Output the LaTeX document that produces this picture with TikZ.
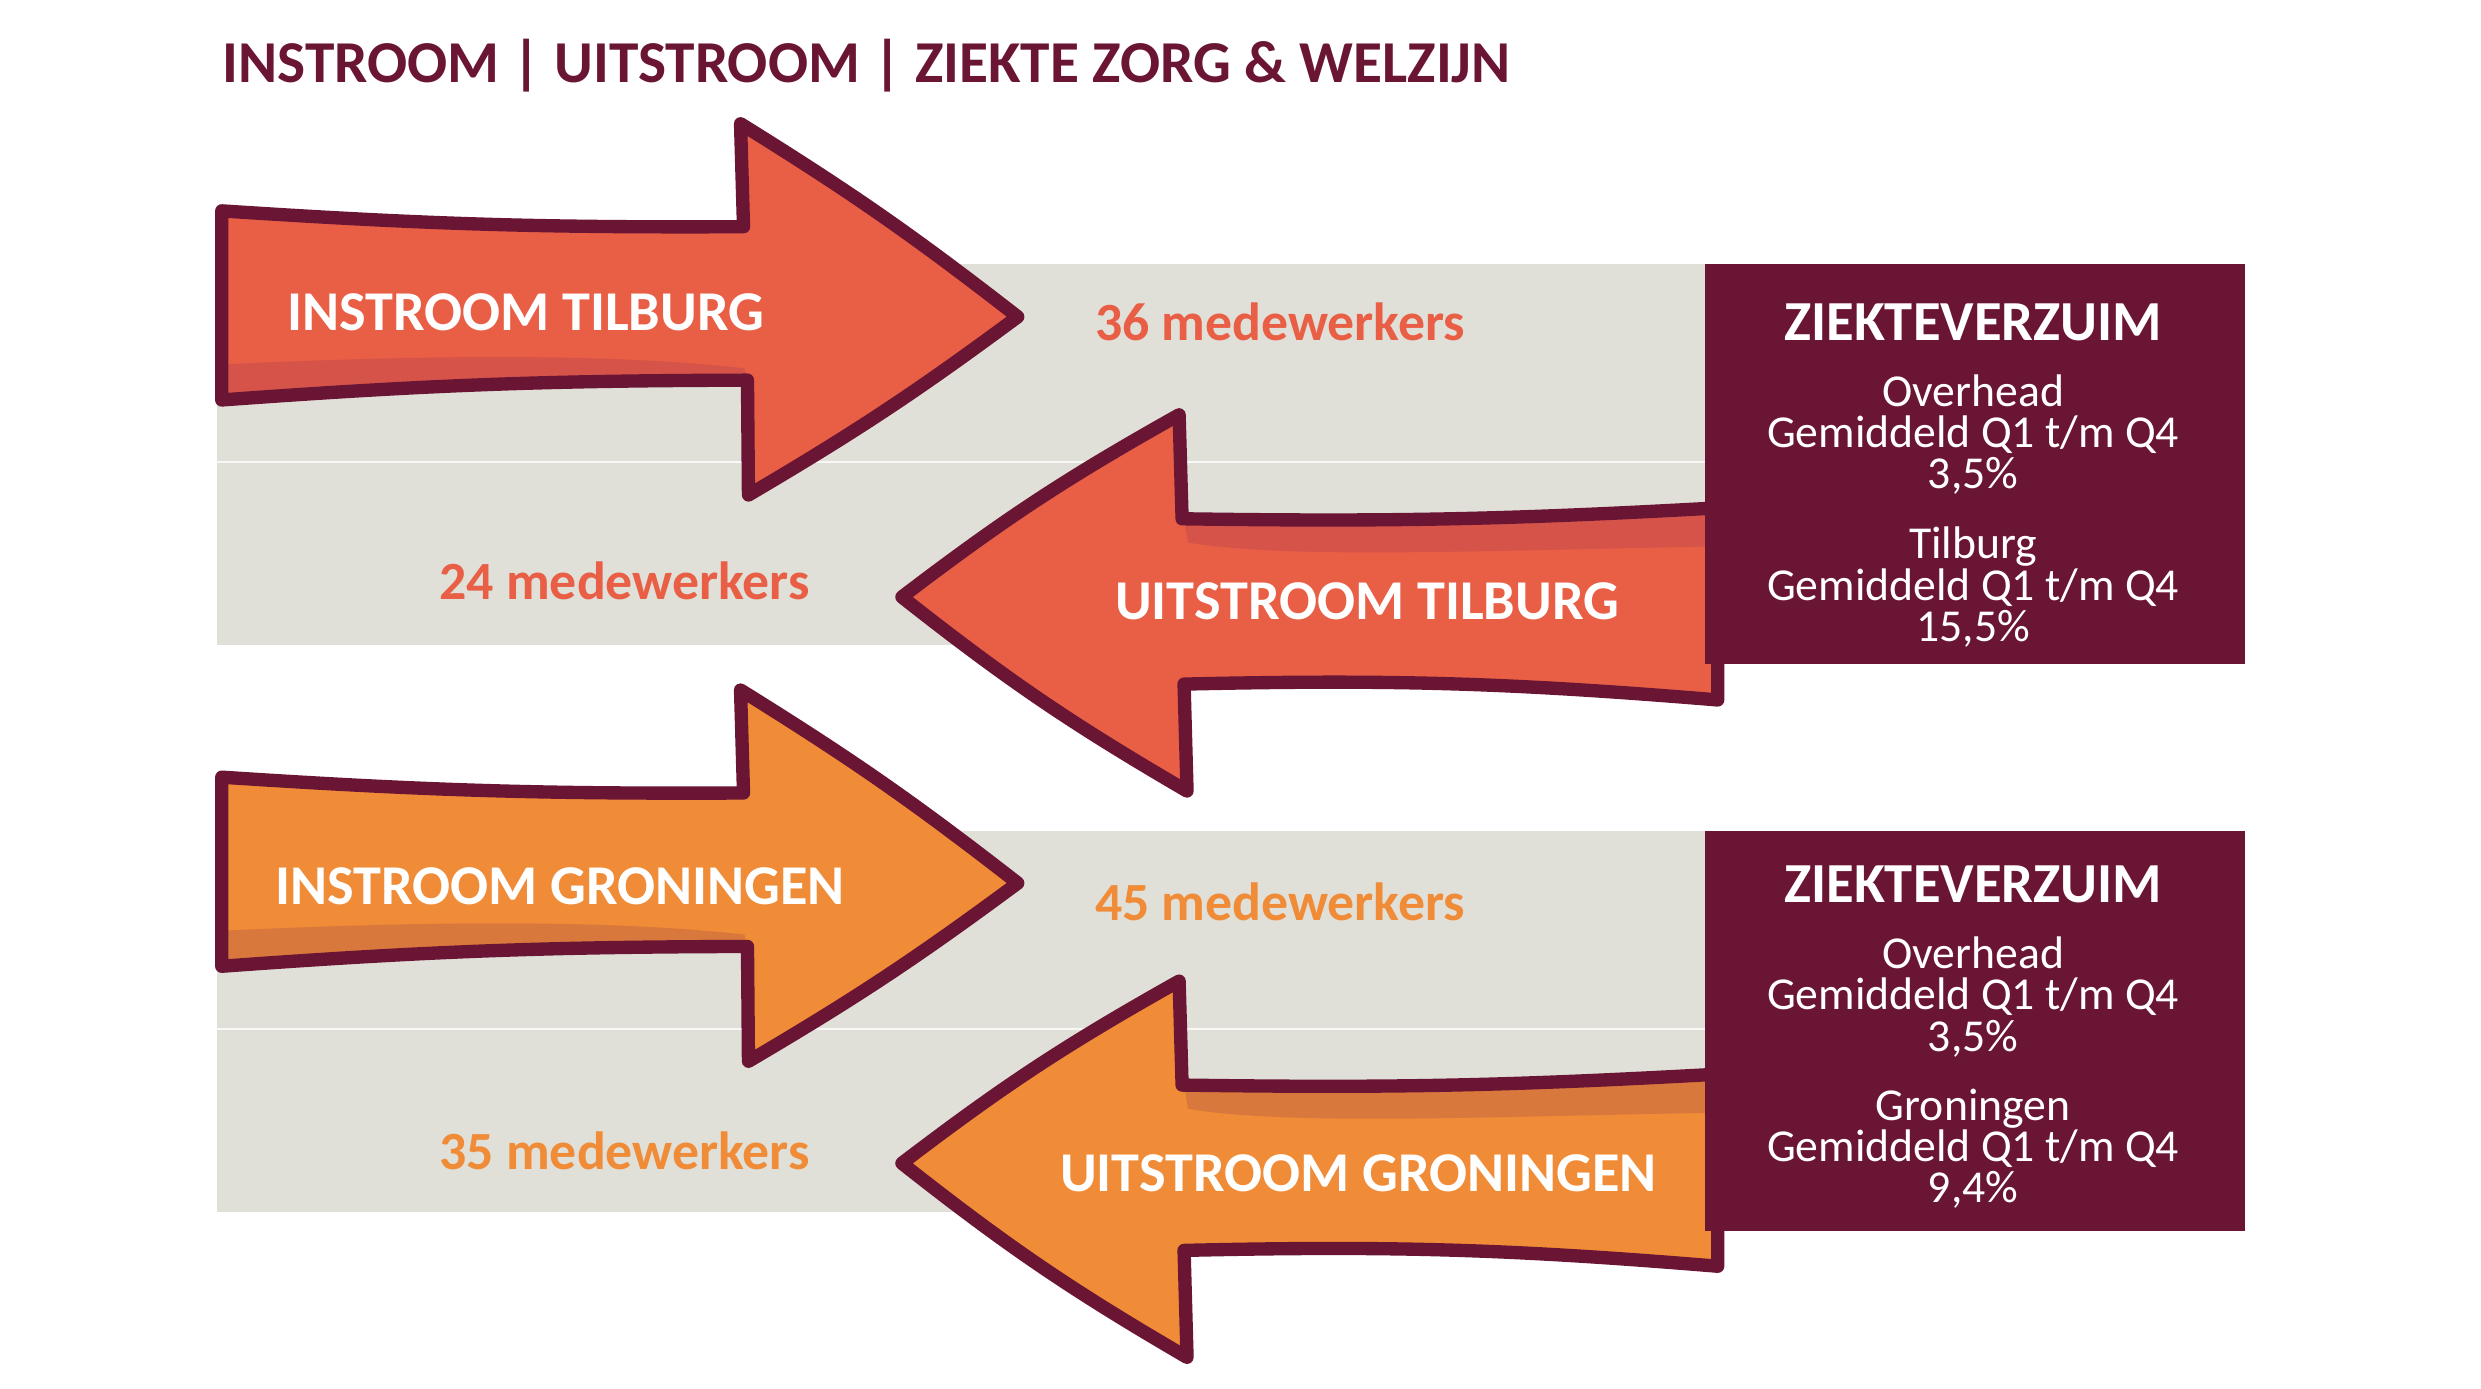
\documentclass[tikz,border=0pt]{standalone}
\usepackage{fontspec}
\setmainfont{Carlito}
\definecolor{maroon}{HTML}{6B1535}
\definecolor{redor}{HTML}{E95F46}
\definecolor{redordk}{HTML}{D6534A}
\definecolor{orng}{HTML}{F08B38}
\definecolor{orngdk}{HTML}{D9783C}
\definecolor{band}{HTML}{E0E0D8}
\tikzset{
  arrowline/.style={draw=maroon, line width=3.8pt, line join=round, line cap=round},
  arrowtxt/.style={text=white, font=\bfseries\fontsize{16}{19}\selectfont, inner sep=0pt},
  counttxt/.style={font=\bfseries\fontsize{15.3}{19}\selectfont, inner sep=0pt},
  boxhead/.style={text=white, font=\bfseries\fontsize{16.1}{19}\selectfont, inner sep=0pt},
  boxbody/.style={text=white, font=\fontsize{13}{11.7}\selectfont, align=center, inner sep=0pt},
  titletxt/.style={text=maroon, font=\bfseries\fontsize{16.9}{20}\selectfont, inner sep=0pt, anchor=base west}
}
\newcommand{\drawblock}[3]{%
  % #1 shift, #2 fill, #3 dark fill
  \begin{scope}[shift={(0,#1)}]
    \fill[band] (219,267) rectangle (1722,652);
    \draw[white, line width=0.6pt, opacity=0.8] (219,467) -- (1722,467);
    % right arrow (instroom)
    \fill[#2] (224,213) to[bend right=2] (751,229) -- (748,125) to[bend left=3] (1028,320) to[bend left=3] (756,500) -- (755,384) to[bend right=2] (224,404) -- cycle;
    \fill[#3] (226,368) .. controls (400,360) and (600,355) .. (752,372) -- (755,386) to[bend right=2] (226,402) -- cycle;
    \draw[arrowline] (224,213) to[bend right=2] (751,229) -- (748,125) to[bend left=3] (1028,320) to[bend left=3] (756,500) -- (755,384) to[bend right=2] (224,404) -- cycle;
    % left arrow (uitstroom)
    \fill[#2] (1735,513) to[bend left=2] (1194,524) -- (1191,419) to[bend right=4] (911,603) to[bend right=4] (1199,799) -- (1196,691) to[bend left=3] (1735,707) -- cycle;
    \fill[#3] (1197,530) -- (1730,517) -- (1730,552) .. controls (1500,556) and (1300,565) .. (1200,548) -- cycle;
    \draw[arrowline] (1735,513) to[bend left=2] (1194,524) -- (1191,419) to[bend right=4] (911,603) to[bend right=4] (1199,799) -- (1196,691) to[bend left=3] (1735,707) -- (1735,640);
    % box
    \fill[maroon] (1722,267) rectangle (2268,671);
  \end{scope}}
\begin{document}
\begin{tikzpicture}[x=0.0099cm,y=-0.0099cm]
\useasboundingbox (0,0) rectangle (2506,1403);
\fill[white] (0,0) rectangle (2506,1403);
\node[titletxt] (title) at (224,83) {INSTROOM | UITSTROOM | ZIEKTE ZORG \& WELZIJN};
\drawblock{0}{redor}{redordk}
\drawblock{572}{orng}{orngdk}
% Tilburg texts
\node[arrowtxt] (inT) at (531,315) {INSTROOM TILBURG};
\node[counttxt, text=redor] (cntInT) at (1293,325) {36 medewerkers};
\node[arrowtxt] (uitT) at (1381,607) {UITSTROOM TILBURG};
\node[counttxt, text=redor] (cntUitT) at (631,587) {24 medewerkers};
\node[boxhead] (zvT) at (1993,326) {ZIEKTEVERZUIM};
\node[boxbody] (ovT) at (1993,439) {Overhead\\Gemiddeld Q1 t/m Q4\\3,5\%};
\node[boxbody] (locT) at (1993,593) {Tilburg\\Gemiddeld Q1 t/m Q4\\15,5\%};
% Groningen texts
\node[arrowtxt] (inG) at (566,895) {INSTROOM GRONINGEN};
\node[counttxt, text=orng] (cntInG) at (1293,911) {45 medewerkers};
\node[arrowtxt] (uitG) at (1372,1185) {UITSTROOM GRONINGEN};
\node[counttxt, text=orng] (cntUitG) at (631,1162) {35 medewerkers};
\node[boxhead] (zvG) at (1993,893) {ZIEKTEVERZUIM};
\node[boxbody] (ovG) at (1993,1007) {Overhead\\Gemiddeld Q1 t/m Q4\\3,5\%};
\node[boxbody] (locG) at (1993,1160) {Groningen\\Gemiddeld Q1 t/m Q4\\9,4\%};
\end{tikzpicture}
\end{document}
